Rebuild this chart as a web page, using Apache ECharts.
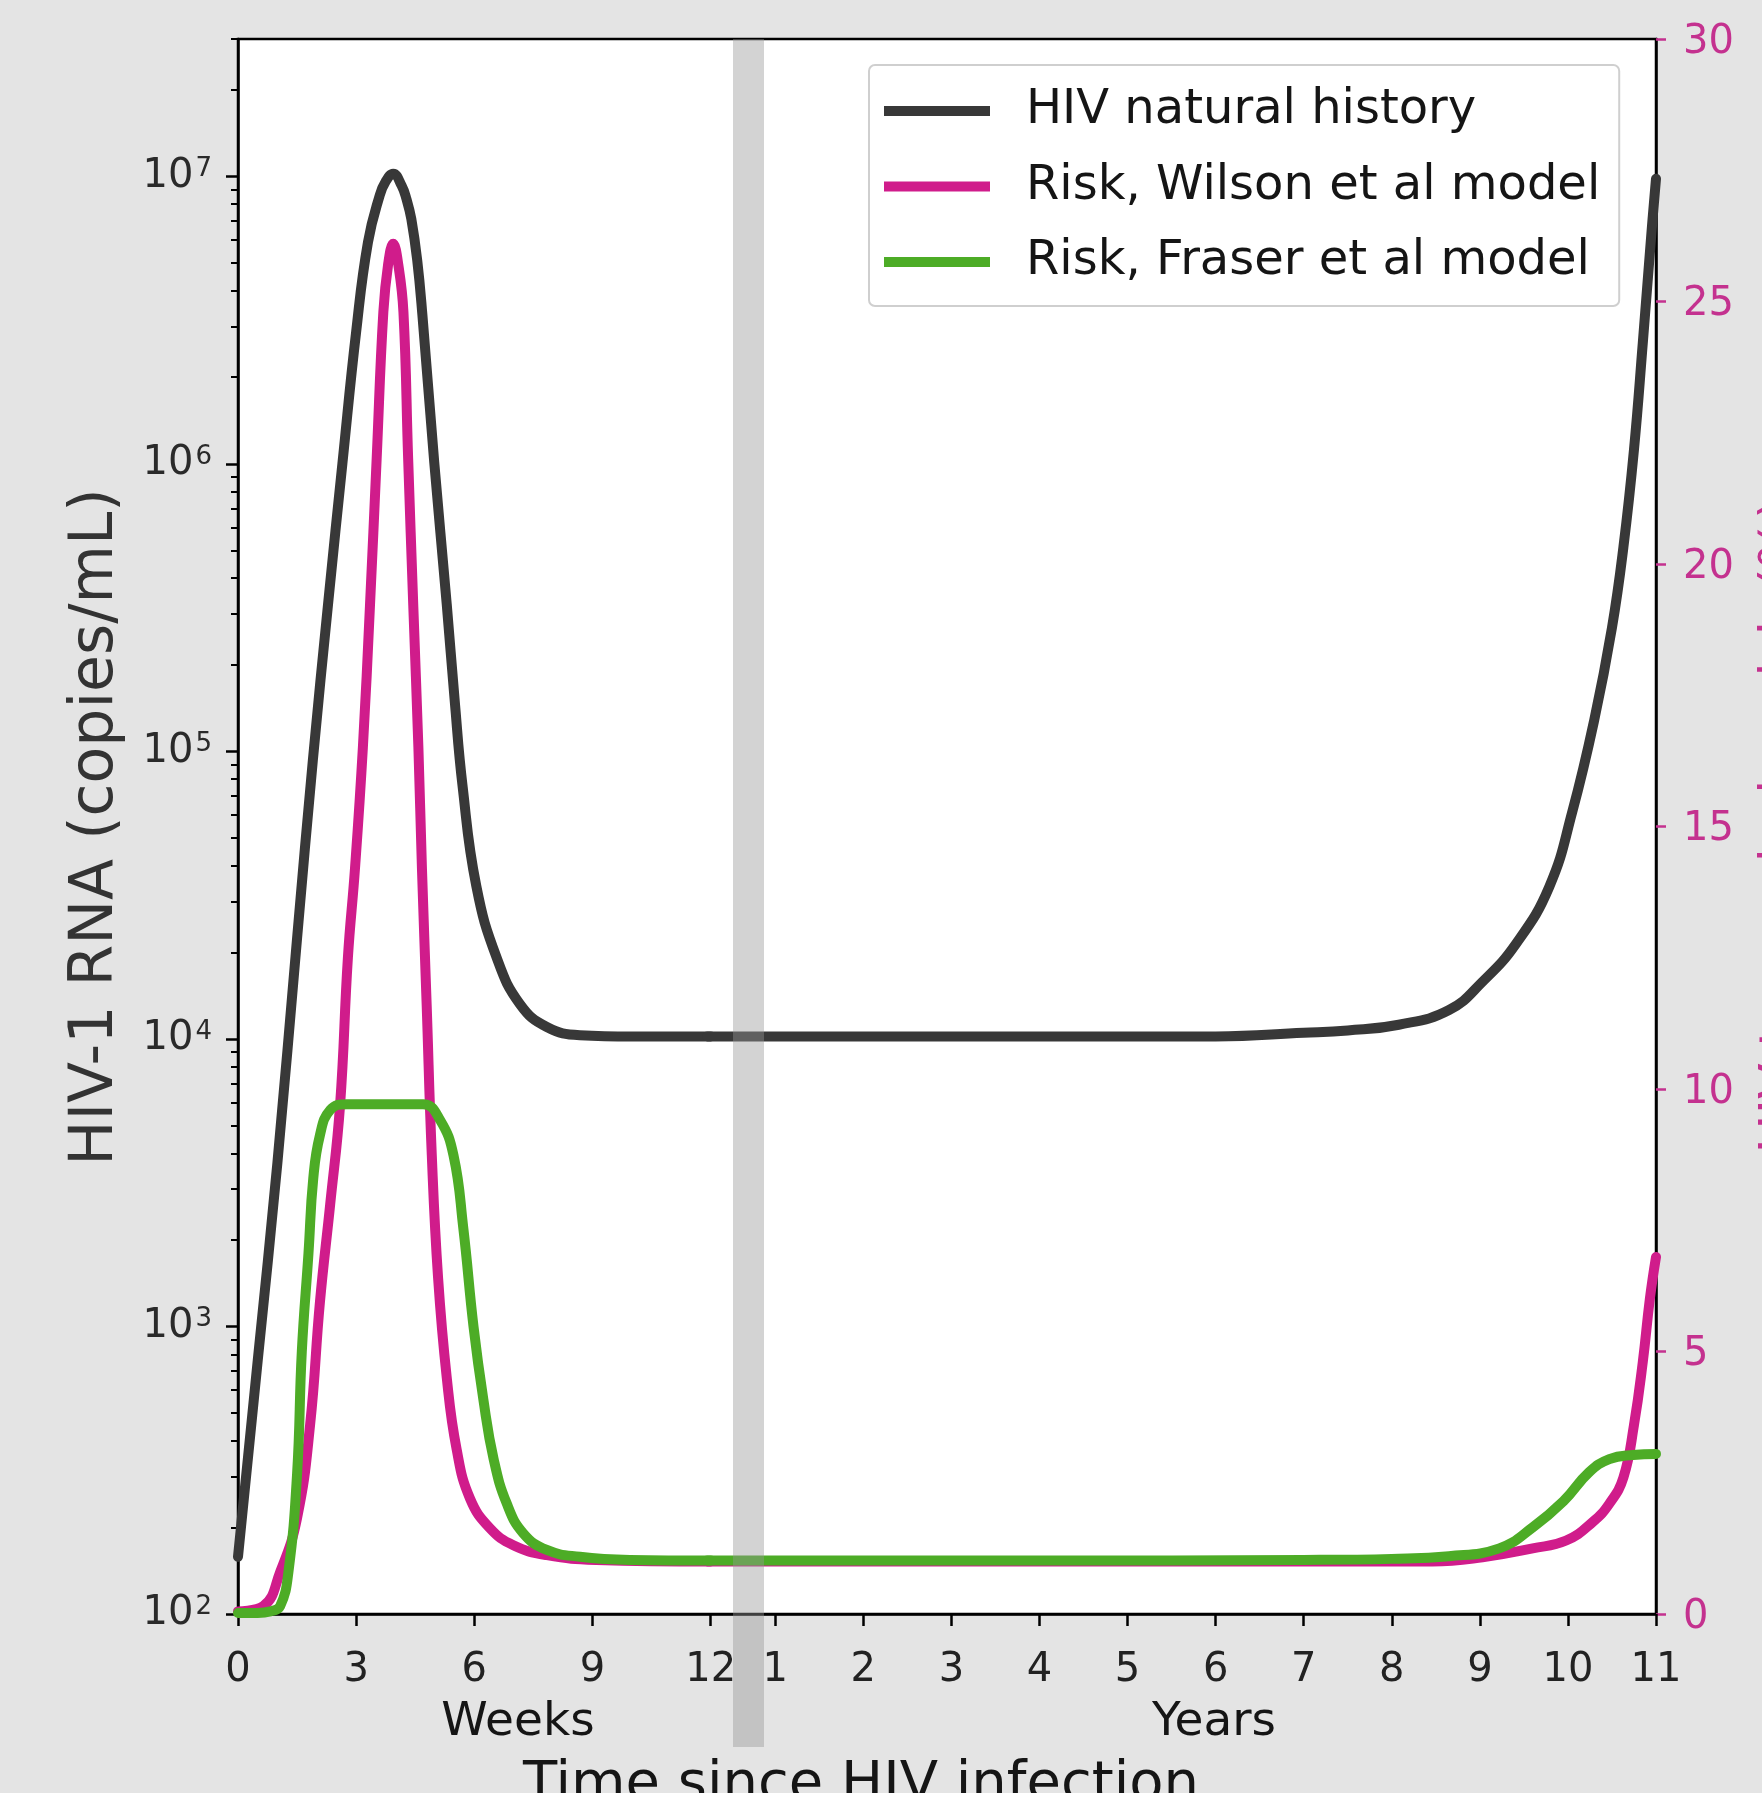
<!DOCTYPE html>
<html>
<head>
<meta charset="utf-8">
<script src="https://cdn.jsdelivr.net/npm/echarts@6/dist/echarts.min.js"></script>
<style>
  html, body { margin: 0; padding: 0; background: #e4e4e4; }
  #chart { width: 1762px; height: 1793px; }
</style>
</head>
<body>
<div id="chart"></div>
<script>
// ---------------- data ----------------
const SERIES_NAMES = ['HIV natural history', 'Risk, Wilson et al model', 'Risk, Fraser et al model'];

const WEEK_TICKS = [0, 3, 6, 9, 12];
const YEAR_TICKS = [1, 2, 3, 4, 5, 6, 7, 8, 9, 10, 11];
const LOG_MAJOR_EXPONENTS = [2, 3, 4, 5, 6, 7];
const RISK_TICKS = [0, 5, 10, 15, 20, 25, 30];

// HIV natural history (copies/mL), weeks part
const BLACK_WEEKS_T = [0, 0.5, 1.0, 1.5, 1.9, 2.3, 2.65, 3.0, 3.3, 3.6, 3.75, 3.94, 4.15, 4.28, 4.4, 4.55, 4.68, 4.98, 5.3, 5.5, 5.7, 6.05, 6.57, 7.16, 7.84, 8.68, 10, 12];
const BLACK_WEEKS_V = [158, 760, 3700, 22400, 93000, 339000, 1.0e6, 2.88e6, 5.9e6, 8.6e6, 9.6e6, 1.02e7, 9.3e6, 8.3e6, 7.1e6, 5.1e6, 3.31e6, 1.02e6, 3.24e5, 1.51e5, 7.6e4, 3.4e4, 1.91e4, 1.32e4, 1.10e4, 1.03e4, 1.02e4, 1.02e4];
// HIV natural history, years part
const BLACK_YEARS_T = [0.23, 2, 4, 6, 7, 7.5, 8.08, 8.65, 9.03, 9.41, 9.79, 10.05, 10.3, 10.5, 10.63, 10.75, 10.85, 10.95, 11];
const BLACK_YEARS_V = [1.02e4, 1.02e4, 1.02e4, 1.02e4, 1.05e4, 1.07e4, 1.12e4, 1.26e4, 1.58e4, 2.14e4, 3.39e4, 6.17e4, 1.29e5, 2.69e5, 5.13e5, 1.12e6, 2.63e6, 6.46e6, 9.8e6];

// Risk, Wilson et al model (right axis), weeks part
const PINK_WEEKS_T = [0, 0.64, 1.07, 1.5, 1.83, 2.08, 2.34, 2.59, 2.79, 2.97, 3.17, 3.35, 3.52, 3.69, 3.81, 3.94, 4.07, 4.20, 4.32, 4.45, 4.58, 4.67, 4.79, 4.92, 5.08, 5.30, 5.55, 5.89, 6.40, 6.99, 7.84, 9.1, 12];
const PINK_WEEKS_V = [0.05, 0.15, 0.8, 1.83, 3.6, 5.94, 7.8, 9.68, 12.5, 14.2, 16.5, 19.2, 22.0, 24.8, 25.7, 26.1, 25.7, 24.8, 22.0, 19.2, 16.5, 14.2, 11.6, 8.74, 6.4, 4.5, 3.14, 2.2, 1.63, 1.31, 1.12, 1.03, 1.0];
// Risk, Wilson et al model, years part
const PINK_YEARS_T = [0.23, 3, 6, 8.46, 9.03, 9.6, 9.98, 10.28, 10.47, 10.63, 10.75, 10.85, 10.93, 11];
const PINK_YEARS_V = [1.0, 1.0, 1.0, 1.0, 1.08, 1.25, 1.4, 1.75, 2.1, 2.6, 3.6, 4.8, 6.0, 6.8];

// Risk, Fraser et al model (right axis), weeks part
const GREEN_WEEKS_T = [0, 0.5, 0.82, 1.07, 1.28, 1.5, 1.62, 1.79, 1.91, 2.08, 2.34, 2.76, 4.70, 5.13, 5.47, 5.72, 5.98, 6.23, 6.49, 6.82, 7.24, 7.84, 8.68, 9.95, 12];
const GREEN_WEEKS_V = [0.02, 0.02, 0.05, 0.15, 0.8, 2.67, 5.0, 6.88, 8.29, 9.12, 9.6, 9.71, 9.71, 9.41, 8.74, 7.35, 5.47, 4.08, 2.95, 2.11, 1.54, 1.22, 1.09, 1.03, 1.02];
// Risk, Fraser et al model, years part
const GREEN_YEARS_T = [0.23, 4, 7, 8.0, 8.65, 9.22, 9.6, 9.95, 10.24, 10.47, 10.74, 11];
const GREEN_YEARS_V = [1.02, 1.02, 1.03, 1.05, 1.1, 1.25, 1.65, 2.15, 2.7, 2.95, 3.03, 3.05];

// axis ranges
const WEEK_AXIS_MAX = 36;       // weeks spanned by full plot width
const YEAR_AXIS_MIN = -5.1;     // years at left edge of plot
const YEAR_AXIS_MAX = 11;
const RNA_MIN = 100, RNA_MAX = 3e7;
const RISK_MIN = 0, RISK_MAX = 30;

// ---------------- build ----------------
const FONT = '"DejaVu Sans", "Liberation Sans", sans-serif';
const COLORS = ['#383838', '#d01c8b', '#4dac26'];
const RISK_LABEL_COLOR = '#c4318f';

const zip = (t, v) => t.map((x, i) => [x, v[i]]);
const logTop = Math.log10(RNA_MAX);
const minorExp = [];
for (let e = 2; e <= 7; e++) {
  for (let k = 2; k <= 9; k++) {
    const v = e + Math.log10(k);
    if (v <= logTop + 1e-9) minorExp.push(v);
  }
}

function line(nameIdx, xi, yi, data, z) {
  return {
    type: 'line', name: SERIES_NAMES[nameIdx], xAxisIndex: xi, yAxisIndex: yi,
    data: data, showSymbol: false, symbol: 'none', smooth: 0.45,
    z: z,
    lineStyle: { color: COLORS[nameIdx], width: 10, cap: 'round', join: 'round' },
    itemStyle: { color: COLORS[nameIdx] },
    emphasis: { disabled: true }
  };
}

const chart = echarts.init(document.getElementById('chart'), null, { renderer: 'canvas', width: 1762, height: 1793 });

const option = {
  backgroundColor: '#e4e4e4',
  animation: false,
  grid: {
    left: 238, right: 106, top: 39, bottom: 179,
    show: true, backgroundColor: '#ffffff', borderColor: '#000', borderWidth: 2.5
  },
  legend: {
    orient: 'vertical', left: 869, top: 65,
    padding: [18, 19, 16, 15],
    itemGap: 19.5, itemWidth: 106, itemHeight: 10, icon: 'rect',
    backgroundColor: '#ffffff', borderColor: '#cfcfcf', borderWidth: 2, borderRadius: 6,
    textStyle: { fontSize: 48, lineHeight: 56, color: '#151515', fontFamily: FONT, padding: [0, 0, 0, 31] },
    data: SERIES_NAMES,
    selectedMode: false
  },
  xAxis: [
    {
      type: 'value', min: 0, max: WEEK_AXIS_MAX, position: 'bottom',
      axisLine: { show: true, onZero: false, lineStyle: { color: '#000', width: 2.5 } },
      axisTick: { show: true, customValues: WEEK_TICKS, length: 12, inside: false, lineStyle: { color: '#000', width: 2.5 } },
      axisLabel: { show: true, customValues: WEEK_TICKS, fontSize: 40, color: '#222', fontFamily: FONT, margin: 37 },
      splitLine: { show: false }
    },
    {
      type: 'value', min: YEAR_AXIS_MIN, max: YEAR_AXIS_MAX, position: 'bottom',
      axisLine: { show: false, onZero: false },
      axisTick: { show: true, customValues: YEAR_TICKS, length: 12, inside: false, lineStyle: { color: '#000', width: 2.5 } },
      axisLabel: { show: true, customValues: YEAR_TICKS, fontSize: 40, color: '#222', fontFamily: FONT, margin: 37 },
      splitLine: { show: false }
    }
  ],
  yAxis: [
    { // data axis for RNA (log)
      type: 'log', logBase: 10, min: RNA_MIN, max: RNA_MAX, position: 'left',
      axisLine: { show: true, onZero: false, lineStyle: { color: '#000', width: 2.5 } },
      axisTick: { show: false }, axisLabel: { show: false }, splitLine: { show: false }, minorTick: { show: false }
    },
    { // risk axis
      type: 'value', min: RISK_MIN, max: RISK_MAX, position: 'right',
      axisLine: { show: true, onZero: false, lineStyle: { color: '#000', width: 2.5 } },
      axisTick: { show: true, customValues: RISK_TICKS, length: 10, inside: false, lineStyle: { color: RISK_LABEL_COLOR, width: 2.5 } },
      axisLabel: {
        show: true, customValues: RISK_TICKS, margin: 27,
        formatter: v => '{r|' + v + '}',
        rich: { r: { fontSize: 40, lineHeight: 40, color: RISK_LABEL_COLOR, fontFamily: FONT, padding: [7, 0, 0, 0] } }
      },
      splitLine: { show: false }
    },
    { // major ticks + labels for log axis (in log10 units)
      type: 'value', min: 2, max: logTop, position: 'left',
      axisLine: { show: false, onZero: false },
      axisTick: { show: true, customValues: LOG_MAJOR_EXPONENTS, length: 12, inside: false, lineStyle: { color: '#000', width: 2.5 } },
      axisLabel: {
        show: true, customValues: LOG_MAJOR_EXPONENTS, margin: 26, color: '#2a2a2a', fontFamily: FONT,
        formatter: v => '{b|10}{s|' + Math.round(v) + '}',
        rich: {
          b: { fontSize: 40, lineHeight: 40, fontFamily: FONT, color: '#2a2a2a', verticalAlign: 'bottom' },
          s: { fontSize: 26, lineHeight: 40, fontFamily: FONT, color: '#2a2a2a', verticalAlign: 'top', padding: [0, 0, 0, 2] }
        }
      },
      splitLine: { show: false }
    },
    { // minor ticks for log axis
      type: 'value', min: 2, max: logTop, position: 'left',
      axisLine: { show: false, onZero: false },
      axisTick: { show: true, customValues: minorExp, length: 7, inside: false, lineStyle: { color: '#000', width: 2 } },
      axisLabel: { show: false },
      splitLine: { show: false }
    }
  ],
  series: [
    line(0, 0, 0, zip(BLACK_WEEKS_T, BLACK_WEEKS_V), 2),
    line(0, 1, 0, zip(BLACK_YEARS_T, BLACK_YEARS_V), 2),
    line(1, 0, 1, zip(PINK_WEEKS_T, PINK_WEEKS_V), 3),
    line(1, 1, 1, zip(PINK_YEARS_T, PINK_YEARS_V), 3),
    line(2, 0, 1, zip(GREEN_WEEKS_T, GREEN_WEEKS_V), 4),
    line(2, 1, 1, zip(GREEN_YEARS_T, GREEN_YEARS_V), 4)
  ],
  graphic: [
    { // axis break band
      type: 'rect', z: 100, silent: true,
      shape: { x: 733, y: 39, width: 31, height: 1708 },
      style: { fill: 'rgba(150,150,150,0.42)' }
    },
    {
      type: 'text', z: 100, x: 518, y: 1723, silent: true,
      style: { text: 'Weeks', font: '47px ' + FONT, fill: '#151515', align: 'center', verticalAlign: 'middle' }
    },
    {
      type: 'text', z: 100, x: 1214, y: 1723, silent: true,
      style: { text: 'Years', font: '47px ' + FONT, fill: '#151515', align: 'center', verticalAlign: 'middle' }
    },
    {
      type: 'text', z: 100, x: 861, y: 1785, silent: true,
      style: { text: 'Time since HIV infection', font: '56px ' + FONT, fill: '#151515', align: 'center', verticalAlign: 'middle' }
    },
    {
      type: 'text', z: 100, x: 96, y: 827, rotation: Math.PI / 2, silent: true,
      style: { text: 'HIV-1 RNA (copies/mL)', font: '60px ' + FONT, fill: '#333333', align: 'center', verticalAlign: 'middle' }
    },
    {
      type: 'text', z: 100, x: 1782, y: 826, rotation: Math.PI / 2, silent: true,
      style: { text: 'HIV transmission risk (%)', font: '52px ' + FONT, fill: RISK_LABEL_COLOR, align: 'center', verticalAlign: 'middle' }
    }
  ]
};

chart.setOption(option);
</script>
</body>
</html>
